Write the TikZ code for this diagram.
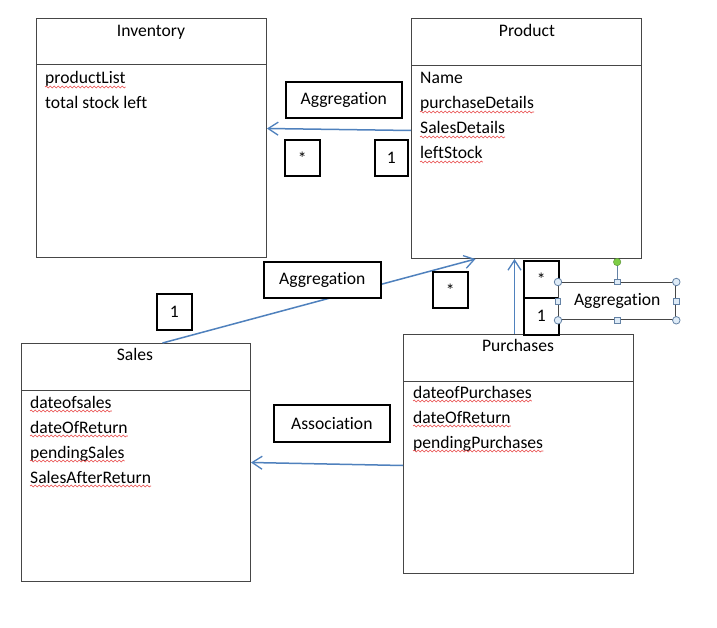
\documentclass[tikz,border=0pt]{standalone}
\usepackage{fontspec}
\setmainfont{Carlito}[Ligatures=NoCommon]
\usetikzlibrary{arrows.meta,decorations.pathmorphing}
\definecolor{linkblue}{RGB}{79,129,189}
\definecolor{boxgray}{RGB}{70,70,70}
\definecolor{squigred}{RGB}{232,70,70}
\definecolor{handlefill}{RGB}{222,235,247}
\definecolor{handledraw}{RGB}{100,130,165}
\definecolor{rotgreen}{RGB}{125,205,70}
\newcommand\squiggle[1]{\draw[squig] ([yshift=-3pt]#1.base west) -- ([yshift=-3pt]#1.base east);}
\begin{document}
\begin{tikzpicture}[x=1pt,y=-1pt,
 every node/.style={font=\fontsize{17.6}{20}\selectfont},
 classbox/.style={draw=boxgray,line width=1pt,anchor=north west,inner sep=0pt},
 divider/.style={draw=boxgray,line width=1pt},
 title/.style={anchor=base,inner sep=0pt},
 attr/.style={anchor=base west,inner sep=0pt},
 lbl/.style={draw=black,line width=1.6pt,fill=white,inner sep=0pt,anchor=north west},
 link/.style={draw=linkblue,line width=1.5pt,-{Straight Barb[length=10pt,width=13pt,line width=1.3pt]}},
 squig/.style={draw=squigred,line width=0.6pt,decorate,decoration={snake,segment length=4pt,amplitude=0.9pt}},
 cornerh/.style={circle,draw=handledraw,fill=handlefill,line width=0.8pt,minimum size=7.5pt,inner sep=0pt},
 edgeh/.style={rectangle,draw=handledraw,fill=handlefill,line width=0.8pt,minimum size=5.5pt,inner sep=0pt},
]
\useasboundingbox (0,0) rectangle (717,628);
\fill[white] (0,0) rectangle (717,628);

% ---- class boxes ----
\node[classbox,minimum width=230pt,minimum height=239pt] (inv) at (36,18) {};
\node[classbox,minimum width=230pt,minimum height=240pt] (prod) at (411,18) {};
\node[classbox,minimum width=229pt,minimum height=238pt] (sales) at (21,343) {};
\node[classbox,minimum width=230pt,minimum height=239pt] (purch) at (403,334) {};

\draw[divider] (inv.west |- 0,65) -- (inv.east |- 0,65);
\draw[divider] (prod.west |- 0,66) -- (prod.east |- 0,66);
\draw[divider] (sales.west |- 0,390) -- (sales.east |- 0,390);
\draw[divider] (purch.west |- 0,381) -- (purch.east |- 0,381);

% titles
\node[title] (tinv) at (151,37) {Inventory};
\node[title] (tprod) at (527,37) {Product};
\node[title] (tsales) at (135,360) {Sales};
\node[title] (tpurch) at (518,351) {Purchases};

% attributes
\node[attr] (i1) at (45,84) {productList};
\node[attr] (i2) at (45,109) {total stock left};

\node[attr] (p1) at (420,84) {Name};
\node[attr] (p2) at (420,109) {purchaseDetails};
\node[attr] (p3) at (420,134) {SalesDetails};
\node[attr] (p4) at (420,159) {leftStock};

\node[attr] (s1) at (30,408) {dateofsales};
\node[attr] (s2) at (30,433) {dateOfReturn};
\node[attr] (s3) at (30,458) {pendingSales};
\node[attr] (s4) at (30,483) {SalesAfterReturn};

\node[attr] (u1) at (413,398) {dateofPurchases};
\node[attr] (u2) at (413,423) {dateOfReturn};
\node[attr] (u3) at (413,448) {pendingPurchases};

\squiggle{i1}
\squiggle{p2}\squiggle{p3}\squiggle{p4}
\squiggle{s1}\squiggle{s2}\squiggle{s3}\squiggle{s4}
\squiggle{u1}\squiggle{u2}\squiggle{u3}

% ---- connectors ----
\draw[link] ([yshift=8pt]prod.west) -- ([yshift=9.5pt]inv.east);
\draw[link] ([xshift=26.5pt]sales.north) -- ([xshift=-51pt]prod.south);
\draw[link] ([xshift=-4pt]purch.north) -- ([xshift=-12pt]prod.south);
\draw[link] ([yshift=-11.5pt]purch.west) -- ([yshift=0pt]sales.east);

% ---- labels ----
\node[lbl,minimum width=116pt,minimum height=36pt] (agg1) at (285,81) {Aggregation};
\node[lbl,minimum width=35pt,minimum height=36pt] (m1) at (284,139) {*};
\node[lbl,minimum width=33pt,minimum height=36pt] (m2) at (374,139) {1};

\node[lbl,minimum width=117pt,minimum height=36pt] (agg2) at (263,261) {Aggregation};
\node[lbl,minimum width=35pt,minimum height=36pt] (m3) at (156,293) {1};
\node[lbl,minimum width=35pt,minimum height=36pt] (m4) at (432,271) {*};

\node[lbl,minimum width=35pt,minimum height=37pt] (m5) at (523,260) {*};
\node[lbl,minimum width=35pt,minimum height=37pt] (m6) at (523,297) {1};

\node[lbl,minimum width=116pt,minimum height=37pt] (assoc) at (273,404) {Association};

% selected label with handles
\node[lbl,line width=1.3pt,draw=boxgray,minimum width=117pt,minimum height=37pt] (agg3) at (558,282) {Aggregation};
\coordinate (rot) at ([yshift=20pt]agg3.north);
\draw[handledraw,line width=0.8pt] (agg3.north) -- (rot);
\node[circle,draw=rotgreen!70!black,fill=rotgreen,minimum size=7.5pt,inner sep=0pt] (hr) at (rot) {};
\node[cornerh] (h1) at (agg3.north west) {};
\node[cornerh] (h2) at (agg3.north east) {};
\node[cornerh] (h3) at (agg3.south west) {};
\node[cornerh] (h4) at (agg3.south east) {};
\node[edgeh] (h5) at (agg3.north) {};
\node[edgeh] (h6) at (agg3.south) {};
\node[edgeh] (h7) at (agg3.west) {};
\node[edgeh] (h8) at (agg3.east) {};
\end{tikzpicture}
\end{document}
